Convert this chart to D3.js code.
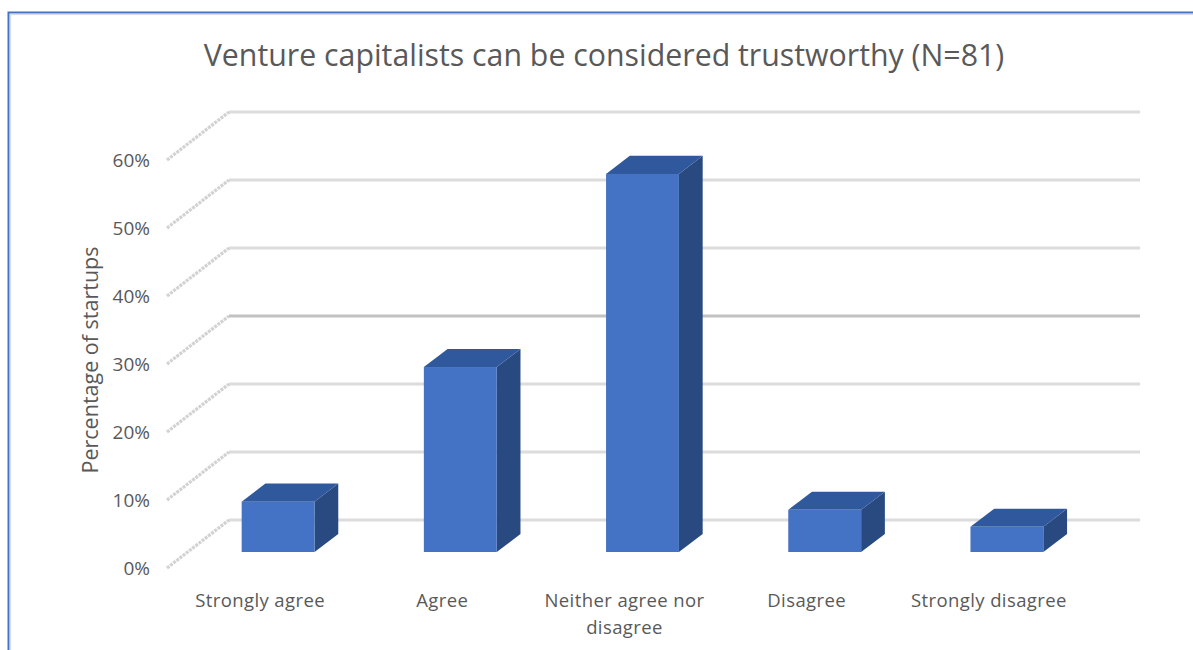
<!DOCTYPE html>
<html>
<head>
<meta charset="utf-8">
<script src="https://cdn.jsdelivr.net/npm/d3@7"></script>
<style>
  html, body { margin: 0; padding: 0; background: #fff; }
  svg { display: block; }
  text { font-family: "Open Sans", "Noto Sans", sans-serif; fill: #595959; }
</style>
</head>
<body>
<svg id="chart" width="1193" height="650"></svg>
<script>
// Survey responses (share of 81 startups)
const categories = ["Strongly agree", "Agree", "Neither agree nor disagree", "Disagree", "Strongly disagree"];
const shares = [0.074, 0.272, 0.556, 0.062, 0.037];
const tickValues = [0, 0.1, 0.2, 0.3, 0.4, 0.5, 0.6];
const titleText = "Venture capitalists can be considered trustworthy (N=81)";
const yTitle = "Percentage of startups";

const svg = d3.select("#chart");

// Outer chart frame
svg.append("rect").attr("x", 8.5).attr("y", 12.5).attr("width", 1200).attr("height", 660)
  .attr("fill", "none").attr("stroke", "#4472C4").attr("stroke-width", 2);
svg.append("rect").attr("x", 10.5).attr("y", 14.5).attr("width", 1200).attr("height", 660)
  .attr("fill", "none").attr("stroke", "#d6dbe4").attr("stroke-width", 1.2);

// Oblique 3D projection: front plane scales plus a depth offset
const depthDX = 63, depthDY = -48;
const x = d3.scaleBand().domain(categories).range([166, 1077]).paddingInner(0.6).paddingOuter(0.3);
const y = d3.scaleLinear().domain([0, 0.6]).range([568, 160]);
const px = (xv, d) => xv + d * depthDX;
const py = (v, d) => y(v) + d * depthDY;

// Back wall gridlines
const gridG = svg.append("g");
gridG.selectAll("line.back").data(tickValues).join("line")
  .attr("x1", px(166, 1)).attr("x2", px(1077, 1))
  .attr("y1", d => py(d, 1)).attr("y2", d => py(d, 1))
  .attr("stroke", d => Math.abs(d - 0.3) < 1e-9 ? "#c2c2c2" : "#dcdcdc")
  .attr("stroke-width", 3);

// Side wall gridlines (receding diagonals)
gridG.selectAll("line.side").data(tickValues).join("line")
  .attr("x1", px(166, 0) + 1).attr("x2", px(166, 1))
  .attr("y1", d => py(d, 0)).attr("y2", d => py(d, 1))
  .attr("stroke", "#d2d2d2").attr("stroke-width", 3.2)
  .attr("stroke-dasharray", "3 1");

// Tick labels
svg.append("g").selectAll("text").data(tickValues).join("text")
  .attr("x", 150).attr("y", d => y(d))
  .attr("dy", "0.35em")
  .attr("text-anchor", "end")
  .attr("font-size", 19)
  .text(d => d3.format(".0%")(d));

// 3D columns
const d0 = 1 / 3, d1 = 0.71;
const bars = svg.append("g").selectAll("g").data(categories.map((c, i) => ({ c, v: shares[i] }))).join("g");
const poly = pts => pts.map(p => p.join(",")).join(" ");
bars.append("polygon") // right side face
  .attr("points", d => {
    const xr = x(d.c) + x.bandwidth();
    return poly([[px(xr, d0), py(0, d0)], [px(xr, d1), py(0, d1)], [px(xr, d1), py(d.v, d1)], [px(xr, d0), py(d.v, d0)]]);
  })
  .attr("fill", "#284a80");
bars.append("polygon") // top face
  .attr("points", d => {
    const xl = x(d.c), xr = xl + x.bandwidth();
    return poly([[px(xl, d0), py(d.v, d0)], [px(xr, d0), py(d.v, d0)], [px(xr, d1), py(d.v, d1)], [px(xl, d1), py(d.v, d1)]]);
  })
  .attr("fill", "#30589c");
bars.append("rect") // front face
  .attr("x", d => px(x(d.c), d0))
  .attr("y", d => py(d.v, d0))
  .attr("width", x.bandwidth())
  .attr("height", d => py(0, d0) - py(d.v, d0))
  .attr("fill", "#4472C4");

// Category labels, wrapped to fit the category width
const catG = svg.append("g");
categories.forEach(c => {
  const t = catG.append("text")
    .attr("x", x(c) + x.bandwidth() / 2 + 3)
    .attr("y", 601)
    .attr("text-anchor", "middle")
    .attr("font-size", 18.5)
    .attr("letter-spacing", 0.4);
  const words = c.split(" ");
  let line = [];
  let tspan = t.append("tspan").attr("x", t.attr("x")).attr("dy", "0.35em");
  words.forEach(w => {
    line.push(w);
    tspan.text(line.join(" "));
    if (tspan.node().getComputedTextLength() > 175 && line.length > 1) {
      line.pop();
      tspan.text(line.join(" "));
      line = [w];
      tspan = t.append("tspan").attr("x", t.attr("x")).attr("dy", "1.45em").text(w);
    }
  });
});

// Axis title
svg.append("text")
  .attr("transform", "translate(90,360) rotate(-90)")
  .attr("text-anchor", "middle")
  .attr("dy", "0.35em")
  .attr("font-size", 21.5)
  .text(yTitle);

// Chart title
svg.append("text")
  .attr("x", 604).attr("y", 55)
  .attr("dy", "0.35em")
  .attr("text-anchor", "middle")
  .attr("font-size", 30.3)
  .text(titleText);
</script>
</body>
</html>
